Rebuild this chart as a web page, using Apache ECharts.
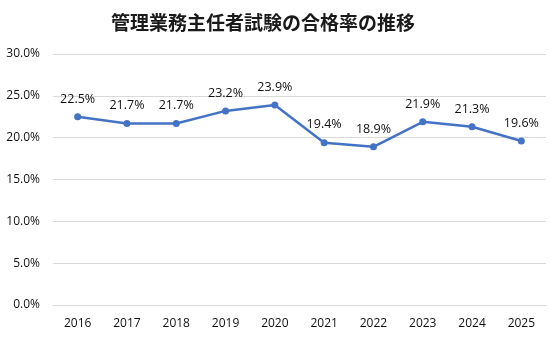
<!DOCTYPE html>
<html>
<head>
<meta charset="utf-8">
<script src="https://cdn.jsdelivr.net/npm/echarts@6/dist/echarts.min.js"></script>
<style>
  html, body { margin: 0; padding: 0; background: #fff; }
  #chart { width: 550px; height: 340px; }
</style>
</head>
<body>
<div id="chart"></div>
<script>
// Pass rate of the 管理業務主任者 exam by year (%)
const years = ['2016', '2017', '2018', '2019', '2020', '2021', '2022', '2023', '2024', '2025'];
const passRates = [22.5, 21.7, 21.7, 23.2, 23.9, 19.4, 18.9, 21.9, 21.3, 19.6];
const chartTitle = '管理業務主任者試験の合格率の推移';

const latin = '"Open Sans", "Noto Sans", "Noto Sans CJK JP", sans-serif';

const chart = echarts.init(document.getElementById('chart'), null, { renderer: 'canvas' });
chart.setOption({
  animation: false,
  backgroundColor: '#ffffff',
  title: {
    text: chartTitle,
    left: 106,
    top: 8,
    textStyle: {
      fontFamily: '"Noto Sans CJK JP", sans-serif',
      fontSize: 19,
      fontWeight: 'bold',
      color: '#1a1a1a'
    }
  },
  grid: { left: 53, right: 4, top: 54, bottom: 35 },
  xAxis: {
    type: 'category',
    data: years,
    boundaryGap: true,
    axisLine: { show: true, lineStyle: { color: '#d9d9d9', width: 1 } },
    axisTick: { show: false },
    axisLabel: { color: '#111111', fontSize: 12, fontFamily: latin, margin: 13 }
  },
  yAxis: {
    type: 'value',
    min: 0,
    max: 30,
    interval: 5,
    axisLine: { show: false },
    axisTick: { show: false },
    splitLine: { lineStyle: { color: '#d9d9d9', width: 1 } },
    axisLabel: {
      color: '#111111',
      fontSize: 12,
      fontFamily: latin,
      margin: 13,
      formatter: v => v.toFixed(1) + '%'
    }
  },
  series: [{
    type: 'line',
    data: passRates,
    symbol: 'circle',
    symbolSize: 7,
    lineStyle: { color: '#4472c4', width: 2.5 },
    itemStyle: { color: '#4472c4' },
    label: {
      show: true,
      position: 'top',
      distance: 8,
      color: '#111111',
      fontSize: 12.5,
      fontFamily: latin,
      formatter: p => p.value.toFixed(1) + '%'
    }
  }]
});
</script>
</body>
</html>
